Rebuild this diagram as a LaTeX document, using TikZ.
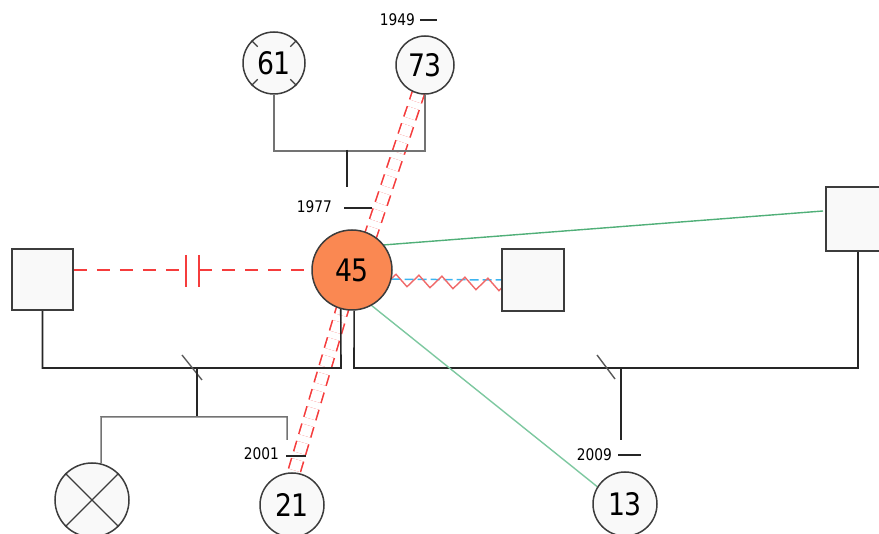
\documentclass[tikz,border=0pt]{standalone}
\usepackage{fontspec}
\setmainfont{DejaVu Sans}[FakeStretch=0.86]
\usetikzlibrary{decorations.pathmorphing}
\pgfdeclarelayer{back}
\pgfsetlayers{back,main}
\definecolor{outline}{RGB}{60,60,60}
\definecolor{paper}{RGB}{249,249,249}
\definecolor{selfcol}{RGB}{250,136,82}
\definecolor{hostile}{RGB}{245,60,60}
\definecolor{closeA}{RGB}{80,175,120}
\definecolor{closeB}{RGB}{125,200,160}
\definecolor{zigcol}{RGB}{240,105,105}
\definecolor{bluecol}{RGB}{60,180,240}
\tikzset{
  person/.style={draw=outline, fill=paper, line width=1.5pt, inner sep=0pt,
    font=\fontsize{31}{34}\selectfont},
  female/.style={person, circle},
  male/.style={person, rectangle},
  year/.style={inner sep=0pt, anchor=east, font=\fontsize{16}{18}\selectfont},
  edge/.style={draw=black!85, line width=1.6pt},
  softedge/.style={draw=black!55, line width=1.8pt},
  slash/.style={draw=black!65, line width=1.4pt},
  hostileline/.style={draw=hostile, line width=1.6pt, dash pattern=on 13pt off 10pt},
  cutoff/.style={draw=hostile, line width=1.6pt, dash pattern=on 11pt off 7pt,
    double=white, double distance=10.8pt},
}
\begin{document}
\begin{tikzpicture}[x=1pt, y=-1pt]
\useasboundingbox (0,0) rectangle (879,534);
\clip (0,0) rectangle (879,534);

% people
\node[female, minimum size=62pt] (g61) at (274,63) {61};
\node[female, minimum size=58pt] (g73) at (425,65) {73};
\node[female, fill=selfcol, minimum size=80pt] (p45) at (352,270) {45};
\node[male, minimum size=61pt] (sqL) at (42.5,279.5) {};
\node[male, minimum size=62pt] (sqM) at (533,280) {};
\node[male, minimum size=64pt] (sqR) at (858,219) {};
\node[female, minimum size=64pt] (c21) at (292,505) {21};
\node[female, minimum size=64pt] (c13) at (625,504) {13};
\node[female, minimum size=74pt] (cx) at (92,500) {};

% deceased marks
\foreach \a in {45,135,225,315}
  \draw[draw=outline, line width=1.3pt] ([shift={(\a:23pt)}]g61.center) -- (g61.\a);
\draw[draw=outline, line width=1.3pt] (cx.45) -- (cx.225) (cx.135) -- (cx.315);

% years
\node[year] (y1949) at (415,19.5) {1949};
\node[year] (y1977) at (332,206.5) {1977};
\node[year] (y2001) at (279,454) {2001};
\node[year] (y2009) at (612,455) {2009};
\draw[edge, line width=1.3pt] (420,20) -- (437,20);
\draw[edge, line width=1.3pt] (344,208) -- (372,208);
\draw[edge, line width=1.3pt] (286,456) -- (306,456);
\draw[edge, line width=1.3pt] (618,455) -- (641,455);

% helper points
\coordinate (kt) at (419,91);
\coordinate (km1) at (359,270);
\coordinate (km2) at (354,270);
\coordinate (kb) at (294,472);
\coordinate (gR) at (823,211);
\coordinate (bar1) at (186,270);
\coordinate (bar2) at (199,270);
\coordinate (zs) at (390,280);
\coordinate (ze) at (507,285);

\begin{pgfonlayer}{back}
  % cut-off relations
  \draw[cutoff] (kt) -- (km1);
  \draw[cutoff] (km2) -- (kb);

  % parents of 45
  \draw[softedge] (g61.south) -- ++(0,56) -| (g73.south);
  \draw[edge] (347,150) -- (347,187);

  % couple: left partner and 45
  \draw[edge] (sqL.south) -- (42.5,368) -- (341,368) -- (p45.254);
  \draw[slash] (182,355) -- (202,380);
  \draw[edge] (197,368) -- (197,417);
  \draw[softedge, line width=1.5pt] (cx.76) -- (101,417) -- (287,417) -- (287,440);

  % couple: 45 and right partner
  \draw[edge] (p45.273) -- (354,368) -- (858,368) -- (sqR.south);
  \draw[slash] (597,355) -- (615,379);
  \draw[edge] (621,368) -- (621,440);

  % emotional lines
  \draw[hostileline] (sqL.east |- p45) -- (bar1);
  \draw[hostileline] (bar2) -- (p45.west);
  \draw[draw=hostile, line width=1.6pt] (186,255) -- (186,287) (199,255) -- (199,287);
  \draw[draw=closeA, line width=1.4pt] (p45.38) -- (gR);
  \draw[draw=closeB, line width=1.4pt] (p45.299) -- (c13.148);
  \draw[draw=bluecol, line width=1.5pt, dash pattern=on 9pt off 4pt] (p45.-13) -- (sqM.west);
  \draw[draw=zigcol, line width=1.4pt, decorate,
        decoration={zigzag, segment length=23pt, amplitude=6pt}] (zs) -- (ze);
\end{pgfonlayer}
\end{tikzpicture}
\end{document}
